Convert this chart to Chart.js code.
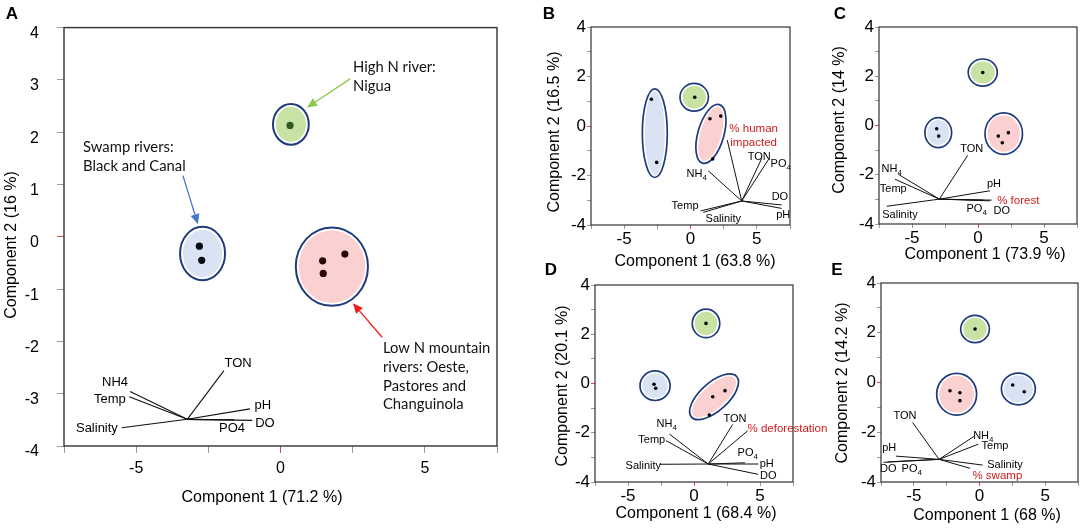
<!DOCTYPE html>
<html><head><meta charset="utf-8">
<script src="https://cdn.jsdelivr.net/npm/chart.js@4.4.1/dist/chart.umd.min.js"></script>
<style>
html,body{margin:0;padding:0;background:#fff;}
body{width:1084px;height:530px;position:relative;overflow:hidden;}
.pn{position:absolute;}
</style></head><body>
<div class="pn" id="wA"><canvas id="cA"></canvas></div>
<div class="pn" id="wB"><canvas id="cB"></canvas></div>
<div class="pn" id="wC"><canvas id="cC"></canvas></div>
<div class="pn" id="wD"><canvas id="cD"></canvas></div>
<div class="pn" id="wE"><canvas id="cE"></canvas></div>
<script>
// ---------------- DATA ----------------
const panelIds = ['A', 'B', 'C', 'D', 'E'];
const xTitles = ['Component 1 (71.2 %)', 'Component 1 (63.8 %)', 'Component 1 (73.9 %)', 'Component 1 (68.4 %)', 'Component 1 (68 %)'];
const yTitles = ['Component 2 (16 %)', 'Component 2 (16.5 %)', 'Component 2 (14 %)', 'Component 2 (20.1 %)', 'Component 2 (14.2 %)'];
const xRange = [-7.5, 7.5];
const yRange = [-4, 4];

// site scores per panel (A..E): swamp rivers, high N river, low N mountain rivers
const swampX = [[-2.81, -2.73], [-2.95, -2.55], [-3.13, -2.98], [-3.03, -2.90], [2.53, 3.41]];
const swampY = [[-0.18, -0.45], [1.08, -1.47], [-0.13, -0.43], [-0.03, -0.19], [-0.10, -0.37]];
const highNX = [[0.33], [0.32], [0.36], [0.91], [-0.34]];
const highNY = [[2.13], [1.16], [2.15], [2.44], [2.15]];
const lowNX = [[1.46, 2.23, 1.48], [1.47, 2.28, 1.67], [1.54, 2.30, 1.84], [1.42, 2.35, 1.16], [-2.25, -1.49, -1.49]];
const lowNY = [[-0.46, -0.33, -0.70], [0.29, 0.40, -1.33], [-0.43, -0.29, -0.70], [-0.54, -0.29, -1.28], [-0.33, -0.41, -0.73]];

// group ellipses [centre x, centre y, radius x, radius y, rotation deg]
const swampEllipse = [[-2.70, -0.32, 0.78, 0.51, 0], [-2.69, -0.29, 0.94, 1.79, 0], [-3.01, -0.29, 1.01, 0.61, 0], [-2.95, -0.09, 1.14, 0.60, 0], [2.96, -0.26, 1.29, 0.64, 0]];
const highNEllipse = [[0.36, 2.15, 0.62, 0.39, 0], [0.28, 1.16, 1.07, 0.56, 0], [0.36, 2.15, 1.10, 0.55, 0], [0.91, 2.44, 1.04, 0.58, 0], [-0.34, 2.15, 1.09, 0.55, 0]];
const lowNEllipse = [[1.78, -0.57, 1.25, 0.75, 0], [1.54, -0.32, 0.98, 1.23, 16], [1.95, -0.33, 1.42, 0.84, 0], [1.52, -0.54, 2.30, 0.57, -42], [-1.74, -0.47, 1.52, 0.84, 0]];

// loading vectors (biplot)
const loadOriginX = [-3.23, 3.86, -2.93, 1.08, -3.08];
const loadOriginY = [-3.49, -3.03, -2.99, -3.27, -3.09];
const varNames = [
  ['TON', 'NH4', 'Temp', 'Salinity', 'pH', 'DO', 'PO4'],
  ['% human\nimpacted', 'TON', 'PO_4', 'NH_4', 'DO', 'pH', 'Temp', 'Salinity'],
  ['TON', 'NH_4', 'Temp', 'Salinity', 'pH', '% forest', 'DO', 'PO_4'],
  ['NH_4', 'Temp', 'Salinity', 'TON', '% deforestation', 'PO_4', 'pH', 'DO'],
  ['TON', 'NH_4', 'Temp', 'Salinity', '% swamp', 'pH', 'DO', 'PO_4']
];
const varEndX = [
  [-1.96, -5.21, -5.24, -5.50, -1.06, -0.98, -1.60],
  [2.77, 5.37, 5.86, 1.34, 6.87, 6.87, 0.77, 0.96],
  [-0.78, -6.04, -6.29, -6.92, 0.91, 1.04, 0.90, 0.40],
  [-1.87, -2.12, -2.58, 2.93, 4.07, 3.86, 4.87, 4.87],
  [-5.09, -0.34, -0.09, 0.24, -0.72, -6.36, -7.30, -7.00]
];
const varEndY = [
  [-2.56, -2.96, -3.06, -3.65, -3.29, -3.51, -3.50],
  [-0.57, -1.31, -1.37, -1.81, -3.19, -3.33, -3.43, -3.49],
  [-1.21, -1.98, -2.18, -3.28, -2.65, -3.03, -3.06, -3.03],
  [-2.05, -2.32, -3.28, -1.66, -1.92, -3.22, -3.27, -3.69],
  [-1.61, -2.14, -2.48, -3.32, -3.45, -2.96, -3.21, -3.19]
];
const varLabelX = [
  [-1.47, -5.73, -5.91, -6.36, -0.61, -0.54, -1.68],
  [4.76, 5.18, 6.80, 0.47, 6.74, 6.99, -0.41, 2.47],
  [-0.48, -6.54, -6.42, -5.91, 1.21, 3.05, 1.80, -0.10],
  [-2.07, -3.20, -3.84, 3.11, 7.08, 4.07, 5.51, 5.63],
  [-5.67, 0.29, 1.18, 1.94, 1.36, -6.87, -6.95, -5.16]
];
const varLabelY = [
  [-2.42, -2.78, -3.10, -3.66, -3.22, -3.56, -3.67],
  [-0.40, -1.24, -1.54, -1.94, -2.86, -3.60, -3.22, -3.76],
  [-0.94, -1.78, -2.56, -3.64, -2.36, -3.06, -3.49, -3.39],
  [-1.66, -2.29, -3.35, -1.44, -1.86, -2.83, -3.27, -3.74],
  [-1.33, -2.15, -2.55, -3.32, -3.75, -2.65, -3.48, -3.48]
];

// panel A annotations
const noteText = ['High N river:', 'Nigua', 'Swamp rivers:', 'Black and Canal', 'Low N mountain', 'rivers: Oeste,', 'Pastores and', 'Changuinola'];
const noteX = [2.51, 2.51, -6.84, -6.84, 3.55, 3.55, 3.55, 3.55];
const noteY = [3.24, 2.87, 1.71, 1.35, -2.13, -2.49, -2.86, -3.20];
const arrowFromX = [2.41, -3.38, 3.52];
const arrowFromY = [3.02, 1.17, -1.92];
const arrowToX = [0.92, -2.86, 2.51];
const arrowToY = [2.47, 0.24, -1.27];

// ---------------- LAYOUT / STYLE ----------------
const SANS = "'Liberation Sans', Arial, Helvetica, sans-serif";
const NOTE = "Lato, 'Open Sans', sans-serif";
const regions = [[0, 0, 520, 530], [540, 0, 262, 272], [825, 0, 259, 272], [540, 262, 290, 268], [825, 262, 259, 268]];
const areas = [[64, 27, 497, 446], [591, 27, 790, 225], [879, 27, 1077, 224], [595, 285, 793, 482], [881, 283, 1078, 482]];
const xTitlePos = [[262, 498], [695, 262], [985, 255], [696, 514], [987, 516]];
const yTitlePos = [[12, 245], [555, 132], [840, 120], [563, 386], [843, 383]];
const letterPos = [[12, 14], [549, 14], [840, 14], [551, 270], [837, 270]];
const groupFill = ['#dae3f3', '#c8e2a4', '#fbd0d0'];
const arrowColor = ['#8cc84b', '#4a78c8', '#ee1c1c'];

function drawRich(ctx, text, cx, cy, size, color) {
  const lines = text.split('\n');
  const lh = size * 1.25;
  ctx.fillStyle = color; ctx.textBaseline = 'middle'; ctx.textAlign = 'left';
  lines.forEach((line, i) => {
    const y = cy + (i - (lines.length - 1) / 2) * lh;
    const segs = line.split(/(_\d)/).filter(s => s.length);
    let w = 0;
    const items = segs.map(s => {
      const sub = s[0] === '_';
      const str = sub ? s.slice(1) : s;
      const fs = sub ? size * 0.72 : size;
      ctx.font = fs + 'px ' + SANS;
      const ww = ctx.measureText(str).width;
      w += ww;
      return { str, sub, fs, ww };
    });
    let x = cx - w / 2;
    items.forEach(it => {
      ctx.font = it.fs + 'px ' + SANS;
      ctx.fillText(it.str, x, y + (it.sub ? size * 0.32 : 0));
      x += it.ww;
    });
  });
}

function drawEllipse(ctx, cx, cy, rx, ry, rot, fill, lw) {
  ctx.save();
  ctx.beginPath(); ctx.ellipse(cx, cy, rx, ry, rot, 0, 2 * Math.PI);
  ctx.fillStyle = '#ffffff'; ctx.fill();
  ctx.beginPath(); ctx.ellipse(cx, cy, Math.max(rx - lw - 0.8, 1), Math.max(ry - lw - 0.8, 1), rot, 0, 2 * Math.PI);
  ctx.fillStyle = fill; ctx.fill();
  ctx.beginPath(); ctx.ellipse(cx, cy, rx, ry, rot, 0, 2 * Math.PI);
  ctx.strokeStyle = '#1f3b7c'; ctx.lineWidth = lw; ctx.stroke();
  ctx.restore();
}

function drawArrow(ctx, x1, y1, x2, y2, color) {
  const ang = Math.atan2(y2 - y1, x2 - x1);
  const hl = 10, hw = 4.5;
  const bx = x2 - hl * Math.cos(ang), by = y2 - hl * Math.sin(ang);
  ctx.save();
  ctx.strokeStyle = color; ctx.fillStyle = color; ctx.lineWidth = 1.3;
  ctx.beginPath(); ctx.moveTo(x1, y1); ctx.lineTo(bx, by); ctx.stroke();
  ctx.beginPath();
  ctx.moveTo(x2, y2);
  ctx.lineTo(bx + hw * Math.sin(ang), by - hw * Math.cos(ang));
  ctx.lineTo(bx - hw * Math.sin(ang), by + hw * Math.cos(ang));
  ctx.closePath(); ctx.fill();
  ctx.restore();
}

panelIds.forEach((id, p) => {
  const [L, T, W, H] = regions[p];
  const [l, t, r, b] = areas[p];
  const wrap = document.getElementById('w' + id);
  wrap.style.left = L + 'px'; wrap.style.top = T + 'px';
  wrap.style.width = W + 'px'; wrap.style.height = H + 'px';
  const isA = p === 0;
  const ox = loadOriginX[p], oy = loadOriginY[p];

  const datasets = [];
  varNames[p].forEach((v, i) => {
    datasets.push({
      data: [{ x: ox, y: oy }, { x: varEndX[p][i], y: varEndY[p][i] }],
      showLine: true, borderColor: '#111', borderWidth: isA ? 1.1 : 1,
      pointRadius: 0, fill: false
    });
  });
  const ptCols = isA ? ['#0c0c14', '#2f5a1e', '#2b0808'] : ['#000', '#000', '#000'];
  [[swampX, swampY], [highNX, highNY], [lowNX, lowNY]].forEach(([gx, gy], g) => {
    datasets.push({
      data: gx[p].map((x, i) => ({ x: x, y: gy[p][i] })),
      showLine: false, pointRadius: isA ? 3.6 : 1.8,
      pointBackgroundColor: ptCols[g], pointBorderWidth: 0, borderWidth: 0
    });
  });

  const tickCol = c => (c.tick && c.tick.value === 0) ? '#d84a4a' : '#9a9a9a';
  const fs = isA ? 16 : 17;

  const plugin = {
    id: 'pca' + id,
    beforeDatasetsDraw(chart) {
      const ctx = chart.ctx, xs = chart.scales.x, ys = chart.scales.y;
      [swampEllipse, highNEllipse, lowNEllipse].forEach((E, g) => {
        const [cx, cy, rx, ry, rot] = E[p];
        const px = xs.getPixelForValue(cx), py = ys.getPixelForValue(cy);
        const rpx = Math.abs(xs.getPixelForValue(cx + rx) - px);
        const rpy = Math.abs(ys.getPixelForValue(cy + ry) - py);
        drawEllipse(ctx, px, py, rpx, rpy, rot * Math.PI / 180, groupFill[g], isA ? 2 : 1.7);
      });
    },
    afterDatasetsDraw(chart) {
      const ctx = chart.ctx, xs = chart.scales.x, ys = chart.scales.y;
      ctx.save();
      varNames[p].forEach((v, i) => {
        const red = v[0] === '%';
        const size = isA ? 13 : (red ? 11.5 : 11);
        drawRich(ctx, v, xs.getPixelForValue(varLabelX[p][i]), ys.getPixelForValue(varLabelY[p][i]), size, red ? '#d01c1c' : '#000');
      });
      if (isA) {
        ctx.font = '14.8px ' + NOTE; ctx.fillStyle = '#111';
        ctx.textAlign = 'left'; ctx.textBaseline = 'middle';
        noteText.forEach((s, i) => ctx.fillText(s, xs.getPixelForValue(noteX[i]), ys.getPixelForValue(noteY[i])));
        arrowFromX.forEach((fx, i) => drawArrow(ctx,
          xs.getPixelForValue(fx), ys.getPixelForValue(arrowFromY[i]),
          xs.getPixelForValue(arrowToX[i]), ys.getPixelForValue(arrowToY[i]), arrowColor[i]));
      }
      ctx.restore();
    },
    afterDraw(chart) {
      const ctx = chart.ctx, a = chart.chartArea;
      ctx.save();
      ctx.strokeStyle = '#333'; ctx.lineWidth = isA ? 1.4 : 1.2;
      ctx.strokeRect(a.left, a.top, a.right - a.left, a.bottom - a.top);
      ctx.fillStyle = '#000'; ctx.textAlign = 'center'; ctx.textBaseline = 'middle';
      ctx.font = '16px ' + SANS;
      ctx.fillText(xTitles[p], xTitlePos[p][0] - L, xTitlePos[p][1] - T);
      ctx.save();
      ctx.translate(yTitlePos[p][0] - L, yTitlePos[p][1] - T);
      ctx.rotate(-Math.PI / 2);
      ctx.fillText(yTitles[p], 0, 0);
      ctx.restore();
      ctx.font = 'bold 17px ' + SANS;
      ctx.fillText(id, letterPos[p][0] - L, letterPos[p][1] - T);
      ctx.restore();
    }
  };

  new Chart(document.getElementById('c' + id), {
    type: 'scatter',
    data: { datasets },
    options: {
      responsive: true, maintainAspectRatio: false, animation: false, events: [],
      layout: { padding: { left: 0, top: t - T, right: L + W - r, bottom: 0 } },
      plugins: { legend: { display: false }, tooltip: { enabled: false } },
      scales: {
        x: {
          type: 'linear', min: xRange[0], max: xRange[1],
          afterFit: s => { s.height = T + H - b; },
          border: { display: false },
          grid: { drawOnChartArea: false, drawTicks: true, tickLength: isA ? 7 : 4, tickWidth: 1, tickColor: tickCol },
          ticks: {
            stepSize: 2.5, autoSkip: false, maxRotation: 0, padding: isA ? 6 : 0,
            color: '#000', font: { family: SANS, size: fs },
            callback: v => (v % 5 === 0 ? String(v) : '')
          }
        },
        y: {
          type: 'linear', min: yRange[0], max: yRange[1],
          afterFit: s => { s.width = l - L; },
          border: { display: false },
          grid: { drawOnChartArea: false, drawTicks: true, tickLength: isA ? 7 : 4, tickWidth: 1, tickColor: tickCol },
          ticks: {
            stepSize: 1, autoSkip: false, padding: isA ? 18 : 1, labelOffset: isA ? 6 : 0,
            color: '#000', font: { family: SANS, size: fs },
            callback: v => (isA || v % 2 === 0 ? String(v) : '')
          }
        }
      }
    },
    plugins: [plugin]
  });
});
</script>
</body></html>
